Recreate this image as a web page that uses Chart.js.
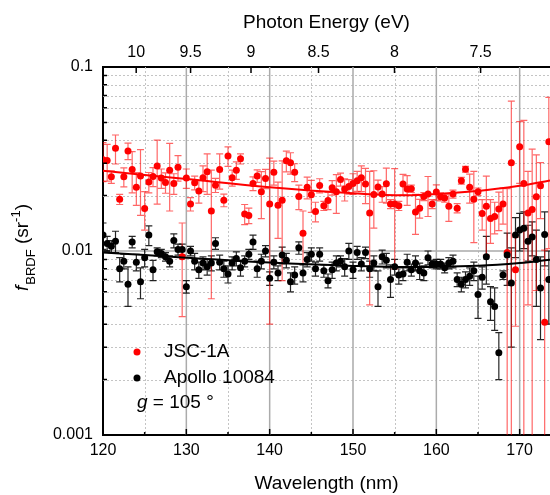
<!DOCTYPE html>
<html>
<head>
<meta charset="utf-8">
<script src="https://cdn.jsdelivr.net/npm/chart.js@4.4.0/dist/chart.umd.min.js"></script>
<style>
  html, body { margin: 0; padding: 0; background: #fff; }
</style>
</head>
<body>
<canvas id="brdfChart" width="550" height="495"></canvas>
<script>
// wavelength grid of the measurements (nm)
const wavelength = [
  120.0, 120.5, 121.0, 121.5, 122.0, 122.5, 123.0, 123.5, 124.0, 124.5,
  125.0, 125.5, 126.0, 126.5, 127.0, 127.5, 128.0, 128.5, 129.0, 129.5,
  130.0, 130.5, 131.0, 131.5, 132.0, 132.5, 133.0, 133.5, 134.0, 134.5,
  135.0, 135.5, 136.0, 136.5, 137.0, 137.5, 138.0, 138.5, 139.0, 139.5,
  140.0, 140.5, 141.0, 141.5, 142.0, 142.5, 143.0, 143.5, 144.0, 144.5,
  145.0, 145.5, 146.0, 146.5, 147.0, 147.5, 148.0, 148.5, 149.0, 149.5,
  150.0, 150.5, 151.0, 151.5, 152.0, 152.5, 153.0, 153.5, 154.0, 154.5,
  155.0, 155.5, 156.0, 156.5, 157.0, 157.5, 158.0, 158.5, 159.0, 159.5,
  160.0, 160.5, 161.0, 161.5, 162.0, 162.5, 163.0, 163.5, 164.0, 164.5,
  165.0, 165.5, 166.0, 166.5, 167.0, 167.5, 168.0, 168.5, 169.0, 169.5,
  170.0, 170.5, 171.0, 171.5, 172.0, 172.5, 173.0, 173.5
];

const jscValues = [
  0.0313, 0.0310, 0.0253, 0.0362, 0.0191, 0.0253, 0.0350, 0.0277, 0.0222, 0.0256,
  0.0170, 0.0237, 0.0254, 0.0290, 0.0249, 0.0236, 0.0275, 0.0233, 0.0285, 0.0093,
  0.0249, 0.0180, 0.0235, 0.0212, 0.0250, 0.0270, 0.0165, 0.0228, 0.0277, 0.0189,
  0.0328, 0.0250, 0.0275, 0.0317, 0.0159, 0.0156, 0.0233, 0.0256, 0.0210, 0.0248,
  0.0180, 0.0268, 0.0177, 0.0189, 0.0309, 0.0302, 0.0268, 0.0198, 0.0125, 0.0222,
  0.0202, 0.0164, 0.0227, 0.0176, 0.0188, 0.0221, 0.0210, 0.0245, 0.0217, 0.0224,
  0.0233, 0.0241, 0.0250, 0.0231, 0.0161, 0.0203, 0.0223, 0.0204, 0.0232, 0.0180,
  0.0180, 0.0176, 0.0231, 0.0217, 0.0218, 0.0163, 0.0171, 0.0198, 0.0204, 0.0180,
  0.0209, 0.0197, 0.0194, 0.0175, 0.0204, 0.0171, 0.0241, 0.0278, 0.0222, 0.0191,
  0.0210, 0.0160, 0.0175, 0.0150, 0.0154, 0.0169, 0.0180, 0.0098, 0.0302, 0.0079,
  0.0369, 0.0233, 0.0161, 0.0168, 0.0197, 0.0226, 0.0041, 0.0393
];
const jscErrors = [
  0.0075, 0.0070, 0.0020, 0.0065, 0.0012, 0.0030, 0.0036, 0.0070, 0.0045, 0.0100,
  0.0040, 0.0030, 0.0030, 0.0110, 0.0030, 0.0030, 0.0110, 0.0030, 0.0045, 0.0049,
  0.0030, 0.0015, 0.0020, 0.0030, 0.0040, 0.0067, 0.0110, 0.0020, 0.0060, 0.0015,
  0.0040, 0.0025, 0.0030, 0.0020, 0.0020, 0.0015, 0.0020, 0.0020, 0.0060, 0.0030,
  0.0140, 0.0040, 0.0060, 0.0120, 0.0040, 0.0040, 0.0030, 0.0030, 0.0040, 0.0030,
  0.0040, 0.0020, 0.0020, 0.0010, 0.0020, 0.0020, 0.0050, 0.0020, 0.0030, 0.0020,
  0.0030, 0.0030, 0.0040, 0.0050, 0.0110, 0.0070, 0.0020, 0.0020, 0.0050, 0.0010,
  0.0100, 0.0010, 0.0030, 0.0040, 0.0010, 0.0040, 0.0020, 0.0010, 0.0050, 0.0010,
  0.0020, 0.0010, 0.0010, 0.0030, 0.0010, 0.0010, 0.0010, 0.0010, 0.0040, 0.0080,
  0.0010, 0.0030, 0.0080, 0.0040, 0.0030, 0.0040, 0.0040, 0.0120, 0.0350, 0.0040,
  0.0136, 0.0280, 0.0110, 0.0190, 0.0136, 0.0076, 0.0060, 0.0290
];

const apolloValues = [
  0.0122, 0.0110, 0.0106, 0.0113, 0.0080, 0.0088, 0.0066, 0.0112, 0.0087, 0.0068,
  0.0092, 0.0122, 0.0079, 0.0099, 0.0097, 0.0093, 0.0088, 0.0114, 0.0102, 0.0102,
  0.0064, 0.0100, 0.0088, 0.0079, 0.0086, 0.0082, 0.0086, 0.0110, 0.0087, 0.0080,
  0.0075, 0.0086, 0.0091, 0.0081, 0.0088, 0.0096, 0.0112, 0.0080, 0.0088, 0.0100,
  0.0071, 0.0087, 0.0076, 0.0095, 0.0089, 0.0068, 0.0074, 0.0104, 0.0076, 0.0090,
  0.0096, 0.0080, 0.0096, 0.0078, 0.0069, 0.0079, 0.0086, 0.0088, 0.0082, 0.0100,
  0.0079, 0.0098, 0.0085, 0.0098, 0.0080, 0.0086, 0.0064, 0.0093, 0.0089, 0.0070,
  0.0082, 0.0074, 0.0075, 0.0087, 0.0079, 0.0086, 0.0078, 0.0076, 0.0092, 0.0085,
  0.0085, 0.0085, 0.0081, 0.0086, 0.0088, 0.0070, 0.0066, 0.0070, 0.0073, 0.0078,
  0.0058, 0.0072, 0.0093, 0.0053, 0.0050, 0.0028, 0.0074, 0.0095, 0.0067, 0.0122,
  0.0130, 0.0133, 0.0113, 0.0119, 0.0090, 0.0063, 0.0123, 0.0070
];
const apolloErrors = [
  0.0020, 0.0010, 0.0008, 0.0015, 0.0012, 0.0008, 0.0016, 0.0008, 0.0009, 0.0013,
  0.0010, 0.0015, 0.0010, 0.0005, 0.0005, 0.0005, 0.0006, 0.0010, 0.0007, 0.0007,
  0.0005, 0.0006, 0.0009, 0.0008, 0.0007, 0.0008, 0.0008, 0.0008, 0.0008, 0.0008,
  0.0008, 0.0007, 0.0008, 0.0008, 0.0006, 0.0006, 0.0010, 0.0008, 0.0008, 0.0007,
  0.0006, 0.0007, 0.0007, 0.0010, 0.0008, 0.0008, 0.0008, 0.0008, 0.0008, 0.0008,
  0.0008, 0.0007, 0.0008, 0.0006, 0.0006, 0.0008, 0.0008, 0.0006, 0.0009, 0.0010,
  0.0008, 0.0008, 0.0007, 0.0007, 0.0008, 0.0008, 0.0014, 0.0008, 0.0008, 0.0014,
  0.0008, 0.0008, 0.0006, 0.0009, 0.0006, 0.0008, 0.0008, 0.0007, 0.0008, 0.0004,
  0.0005, 0.0005, 0.0005, 0.0006, 0.0007, 0.0006, 0.0006, 0.0007, 0.0008, 0.0009,
  0.0015, 0.0010, 0.0027, 0.0011, 0.0013, 0.0008, 0.0004, 0.0030, 0.0037, 0.0030,
  0.0030, 0.0030, 0.0025, 0.0025, 0.0040, 0.0030, 0.0040, 0.0030
];

// fitted curves, read at a few wavelengths
const fitWavelength = [120, 130, 140, 150, 157, 165, 170, 173.64];
const jscFit = [0.0273, 0.0246, 0.0222, 0.0206, 0.0201, 0.0212, 0.0226, 0.0242];
const apolloFit = [0.00982, 0.0092, 0.00865, 0.0083, 0.00818, 0.00832, 0.0086, 0.00897];

const xTicks = [120, 125, 130, 135, 140, 145, 150, 155, 160, 165, 170];
const energyTicks = [10, 9.5, 9, 8.5, 8, 7.5];
const yTickValues = [0.001, 0.01, 0.1];
const yTickLabels = ['0.001', '0.01', '0.1'];

const HC = 1239.84; // nm * eV
const X_MIN = 120, X_MAX = 173.64;
const FONT = "'Liberation Sans', Arial, sans-serif";

Chart.defaults.font.family = FONT;
Chart.defaults.color = '#000';

const toPoints = (xs, ys) => xs.map((x, i) => ({ x: x, y: ys[i] }));

// grid lines like the original plot: solid at every 10 nm and at 0.01, dotted elsewhere
const gridPlugin = {
  id: 'plotGrid',
  beforeDatasetsDraw(chart) {
    const { ctx, chartArea: a, scales: { x, y } } = chart;
    ctx.save();
    ctx.lineWidth = 1;
    ctx.strokeStyle = '#c4c4c4';
    ctx.setLineDash([2, 2]);
    ctx.beginPath();
    xTicks.filter(v => v % 10 !== 0).forEach(v => {
      const px = Math.round(x.getPixelForValue(v)) + 0.5;
      ctx.moveTo(px, a.top); ctx.lineTo(px, a.bottom);
    });
    [0.001, 0.01].forEach(dec => {
      for (let m = 2; m <= 9; m++) {
        const py = Math.round(y.getPixelForValue(m * dec)) + 0.5;
        ctx.moveTo(a.left, py); ctx.lineTo(a.right, py);
      }
    });
    ctx.stroke();

    ctx.setLineDash([]);
    ctx.strokeStyle = '#ababab';
    ctx.lineWidth = 1.5;
    ctx.beginPath();
    xTicks.filter(v => v % 10 === 0 && v > X_MIN).forEach(v => {
      const px = x.getPixelForValue(v);
      ctx.moveTo(px, a.top); ctx.lineTo(px, a.bottom);
    });
    const p01 = y.getPixelForValue(0.01);
    ctx.moveTo(a.left, p01); ctx.lineTo(a.right, p01);
    ctx.stroke();
    ctx.restore();
  }
};

const errorBarPlugin = {
  id: 'errorBars',
  beforeDatasetsDraw(chart) {
    const { ctx, chartArea: a, scales: { x, y } } = chart;
    ctx.save();
    ctx.beginPath();
    ctx.rect(a.left, a.top, a.right - a.left, a.bottom - a.top);
    ctx.clip();
    chart.data.datasets.forEach(ds => {
      if (!ds.errors) return;
      ctx.strokeStyle = ds.errorColor;
      ctx.lineWidth = 1.2;
      ds.data.forEach((p, i) => {
        const e = ds.errors[i];
        const px = x.getPixelForValue(p.x);
        const top = y.getPixelForValue(p.y + e);
        const low = p.y - e;
        const bottom = low > 0 ? y.getPixelForValue(low) : a.bottom + 5;
        ctx.beginPath();
        ctx.moveTo(px, top); ctx.lineTo(px, bottom);
        ctx.moveTo(px - 3.5, top); ctx.lineTo(px + 3.5, top);
        if (low > 0) { ctx.moveTo(px - 3.5, bottom); ctx.lineTo(px + 3.5, bottom); }
        ctx.stroke();
      });
    });
    ctx.restore();
  }
};

// inward tick marks, legend and the y title
const decorPlugin = {
  id: 'decor',
  afterDraw(chart) {
    const { ctx, chartArea: a, scales: { x, x2, y } } = chart;
    ctx.save();
    ctx.strokeStyle = '#000';
    ctx.lineWidth = 1.5;
    ctx.beginPath();
    xTicks.forEach(v => {
      const px = x.getPixelForValue(v);
      const len = v % 10 === 0 ? 6 : 3;
      ctx.moveTo(px, a.bottom); ctx.lineTo(px, a.bottom - len);
    });
    x2.ticks.forEach(t => {
      const px = x2.getPixelForValue(t.value);
      ctx.moveTo(px, a.top); ctx.lineTo(px, a.top + 6);
    });
    yTickValues.forEach(v => {
      const py = y.getPixelForValue(v);
      ctx.moveTo(a.left, py); ctx.lineTo(a.left + 7, py);
    });
    [0.001, 0.01].forEach(dec => {
      for (let m = 2; m <= 9; m++) {
        const py = y.getPixelForValue(m * dec);
        ctx.moveTo(a.left, py); ctx.lineTo(a.left + 4, py);
      }
    });
    ctx.stroke();

    // legend
    const legendItems = [
      { text: 'JSC-1A', color: '#ff0000', y: 352 },
      { text: 'Apollo 10084', color: '#000000', y: 378 }
    ];
    ctx.textBaseline = 'middle';
    ctx.textAlign = 'left';
    ctx.font = '19px ' + FONT;
    legendItems.forEach(it => {
      ctx.fillStyle = it.color;
      ctx.beginPath();
      ctx.arc(137, it.y, 3.5, 0, Math.PI * 2);
      ctx.fill();
      ctx.fillStyle = '#000';
      ctx.fillText(it.text, 164, it.y);
    });
    ctx.font = 'italic 19px ' + FONT;
    ctx.fillText('g', 137, 403);
    const gw = ctx.measureText('g').width;
    ctx.font = '19px ' + FONT;
    ctx.fillText(' = 105 \u00B0', 137 + gw, 403);

    // y axis title: f_BRDF (sr^-1)
    ctx.translate(28, 291);
    ctx.rotate(-Math.PI / 2);
    ctx.textBaseline = 'alphabetic';
    let cx = 0;
    const part = (txt, font, dy) => {
      ctx.font = font;
      ctx.fillText(txt, cx, dy);
      cx += ctx.measureText(txt).width;
    };
    part('f', 'italic 19px ' + FONT, 0);
    cx += 1;
    part('BRDF', '13px ' + FONT, 7);
    part(' (sr', '19px ' + FONT, 0);
    part('-1', '13px ' + FONT, -8);
    part(')', '19px ' + FONT, 0);
    ctx.restore();
  }
};

const ctx = document.getElementById('brdfChart').getContext('2d');
new Chart(ctx, {
  type: 'scatter',
  data: {
    datasets: [
      {
        label: 'JSC-1A fit',
        data: toPoints(fitWavelength, jscFit),
        showLine: true,
        borderColor: '#ff0000',
        borderWidth: 2,
        pointRadius: 0,
        tension: 0.4,
        order: 0
      },
      {
        label: 'Apollo 10084 fit',
        data: toPoints(fitWavelength, apolloFit),
        showLine: true,
        borderColor: '#000000',
        borderWidth: 2,
        pointRadius: 0,
        tension: 0.4,
        order: 0
      },
      {
        label: 'Apollo 10084',
        data: toPoints(wavelength, apolloValues),
        errors: apolloErrors,
        errorColor: 'rgba(0,0,0,0.85)',
        pointRadius: 3.5,
        pointBackgroundColor: '#000000',
        pointBorderWidth: 0,
        order: 1
      },
      {
        label: 'JSC-1A',
        data: toPoints(wavelength, jscValues),
        errors: jscErrors,
        errorColor: 'rgba(255,0,0,0.6)',
        pointRadius: 3.5,
        pointBackgroundColor: '#ff0000',
        pointBorderWidth: 0,
        order: 2
      }
    ]
  },
  options: {
    responsive: false,
    animation: false,
    devicePixelRatio: 1,
    layout: { padding: 0, autoPadding: false },
    plugins: {
      legend: { display: false },
      tooltip: { enabled: false }
    },
    scales: {
      x: {
        type: 'linear',
        position: 'bottom',
        min: X_MIN,
        max: X_MAX,
        afterBuildTicks: s => { s.ticks = xTicks.map(v => ({ value: v })); },
        afterFit: s => { s.height = 60; },
        grid: { display: false, drawTicks: false },
        border: { display: true, color: '#000', width: 2 },
        ticks: {
          color: '#000',
          font: { size: 16 },
          padding: 6,
          maxRotation: 0,
          autoSkip: false,
          callback: v => (v % 10 === 0 ? String(v) : '')
        },
        title: {
          display: true,
          text: 'Wavelength (nm)',
          color: '#000',
          font: { size: 19 },
          padding: { top: 0, bottom: 0 }
        }
      },
      x2: {
        type: 'linear',
        position: 'top',
        min: X_MIN,
        max: X_MAX,
        afterBuildTicks: s => { s.ticks = energyTicks.map(e => ({ value: HC / e })); },
        afterFit: s => { s.height = 67; },
        grid: { display: false, drawTicks: false },
        border: { display: true, color: '#000', width: 2 },
        ticks: {
          color: '#000',
          font: { size: 16 },
          padding: 5,
          maxRotation: 0,
          autoSkip: false,
          callback: (v, i) => String(energyTicks[i])
        },
        title: {
          display: true,
          text: 'Photon Energy (eV)',
          color: '#000',
          font: { size: 19 },
          padding: { top: 11, bottom: 0 }
        }
      },
      y: {
        type: 'logarithmic',
        min: 0.001,
        max: 0.1,
        afterBuildTicks: s => { s.ticks = yTickValues.map(v => ({ value: v })); },
        afterFit: s => { s.width = 103; },
        grid: { display: false, drawTicks: false },
        border: { display: true, color: '#000', width: 2 },
        ticks: {
          color: '#000',
          font: { size: 16 },
          padding: 10,
          autoSkip: false,
          callback: (v, i) => yTickLabels[i]
        }
      }
    }
  },
  plugins: [gridPlugin, errorBarPlugin, decorPlugin]
});
</script>
</body>
</html>
